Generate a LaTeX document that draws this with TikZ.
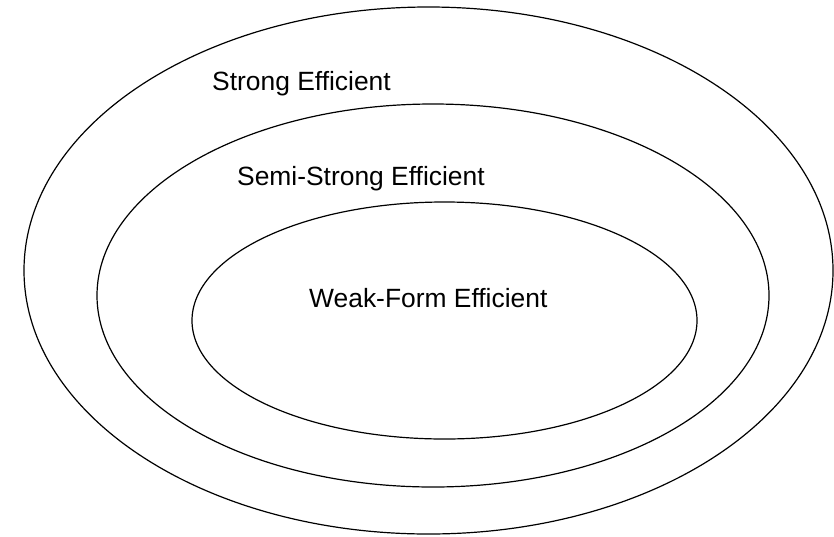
\documentclass[tikz,border=0pt]{standalone}
\usepackage{fontspec}
\setmainfont{Liberation Sans}
\begin{document}
\begin{tikzpicture}[x=1pt,y=-1pt,
  ring/.style={draw=black,line width=1.2pt},
  lbl/.style={anchor=base west,inner sep=0pt,font=\fontsize{26.4}{30}\selectfont}]
\useasboundingbox (0,0) rectangle (834,536);
\draw[ring] (428.5,270.5) ellipse [x radius=404.5, y radius=263.5];
\draw[ring] (433,295.5) ellipse [x radius=336, y radius=191.5];
\draw[ring] (444.5,320.5) ellipse [x radius=252.5, y radius=118.5];
\node[lbl] (strong) at (212,90) {Strong Efficient};
\node[lbl] (semi) at (237,185) {Semi-Strong Efficient};
\node[lbl] (weak) at (309,307) {Weak-Form Efficient};
\end{tikzpicture}
\end{document}
